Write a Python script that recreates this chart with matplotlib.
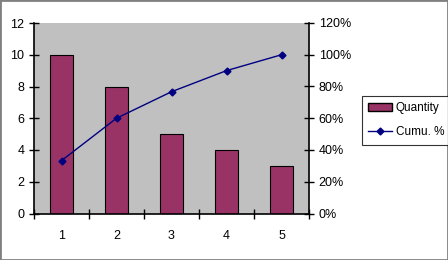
import numpy as np
import matplotlib.pyplot as plt
from matplotlib.lines import Line2D
from matplotlib.patches import Patch, Rectangle

categories = ["1", "2", "3", "4", "5"]
quantity = [10, 8, 5, 4, 3]
cumu_pct = [33.3, 60.0, 76.7, 90.0, 100.0]

plt.rcParams['font.family'] = ['Liberation Sans', 'DejaVu Sans']
plt.rcParams['font.size'] = 9

fig = plt.figure(figsize=(4.48, 2.60), dpi=100)
ax = fig.add_axes([34 / 448, 1 - 213.5 / 260, (309 - 34) / 448, (213.5 - 23) / 260])
ax.set_facecolor('#c0c0c0')

x = np.arange(len(categories))
ax.bar(x, quantity, width=0.42, color='#993366', edgecolor='black', linewidth=0.8, zorder=2)
ax.set_xlim(-0.5, len(categories) - 0.5)
ax.set_ylim(0, 12)
ax.set_yticks(range(0, 13, 2))
ax.set_xticks(x)
ax.set_xticklabels(categories)
ax.set_xticks(np.arange(-0.5, len(categories), 1), minor=True)
ax.tick_params(axis='x', which='major', length=0, pad=12)
ax.tick_params(axis='x', which='minor', direction='inout', length=7, width=1)
ax.tick_params(axis='y', direction='inout', length=7, width=1)
ax.spines['top'].set_visible(False)
ax.spines['right'].set_visible(False)
ax.spines['left'].set_linewidth(1.2)
ax.spines['bottom'].set_linewidth(1.2)

ax2 = ax.twinx()
ax2.plot(x, cumu_pct, color='#000080', marker='D', markersize=3.5, linewidth=1, zorder=3)
ax2.set_ylim(0, 120)
ax2.set_yticks(range(0, 121, 20))
ax2.set_yticklabels([f"{v}%" for v in range(0, 121, 20)])
ax2.tick_params(axis='y', direction='inout', length=7, width=1)
ax2.spines['top'].set_visible(False)
ax2.spines['left'].set_visible(False)
ax2.spines['bottom'].set_visible(False)
ax2.spines['right'].set_linewidth(1.2)

handles = [Patch(facecolor='#993366', edgecolor='black', label='Quantity'),
           Line2D([], [], color='#000080', marker='D', markersize=3.5, linewidth=1, label='Cumu. %')]
leg = fig.legend(handles=handles, loc='upper left', bbox_to_anchor=(362 / 448, 1 - 96 / 260),
                 borderaxespad=0, frameon=True, fancybox=False, edgecolor='black', borderpad=0.55,
                 handlelength=2.0, handletextpad=0.3, labelspacing=1.0, fontsize=8.5)
leg.get_frame().set_linewidth(0.8)

fig.patches.append(Rectangle((0, 0), 1, 1, transform=fig.transFigure, fill=False,
                             edgecolor='#808080', linewidth=2))

fig.savefig('out.png', dpi=100)
